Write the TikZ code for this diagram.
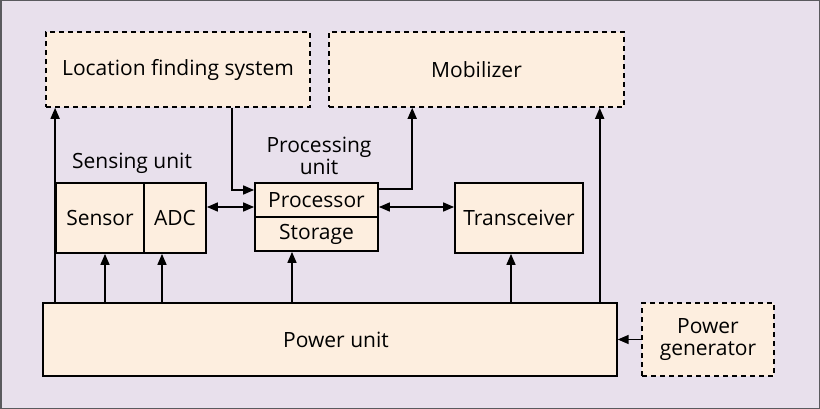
\documentclass[tikz,border=0pt]{standalone}
\usepackage{fontspec}
\setmainfont{Open Sans}
\usetikzlibrary{arrows.meta}
\definecolor{bg}{HTML}{E8E0EC}
\definecolor{boxfill}{HTML}{FDEEDF}
\definecolor{frame}{HTML}{5A5A5E}
\begin{document}
\begin{tikzpicture}[x=1pt,y=-1pt,
  solidbox/.style={draw=black,line width=1.8pt,fill=boxfill,rectangle,inner sep=0pt,font=\fontsize{21}{22}\selectfont},
  dashbox/.style={draw=black,line width=1.6pt,dash pattern=on 5pt off 4pt,fill=boxfill,rectangle,inner sep=0pt,font=\fontsize{21}{22}\selectfont},
  lbl/.style={font=\fontsize{21}{22}\selectfont,align=center,inner sep=0pt},
  conn/.style={line width=1.6pt,-{Triangle[length=11pt,width=9pt]}},
  dconn/.style={line width=1.6pt,{Triangle[length=11pt,width=9pt]}-{Triangle[length=11pt,width=9pt]}},
  line/.style={line width=1.6pt}]
\fill[bg] (0,0) rectangle (820,409);
\draw[frame,line width=1.5pt] (0.75,0.75) rectangle (819.25,408.25);
\useasboundingbox (0,0) rectangle (820,409);

\node[dashbox,minimum width=264pt,minimum height=75pt] (lfs) at (178,69.5) {Location finding system};
\node[dashbox,minimum width=295pt,minimum height=75pt] (mob) at (476.5,69.5) {Mobilizer};

\node[lbl] (sensl) at (132,163) {Sensing unit};
\node[lbl] (procl) at (319,156) {Processing\\unit};

\node[solidbox,minimum width=88pt,minimum height=70pt] (sensor) at (100,218) {Sensor};
\node[solidbox,minimum width=62pt,minimum height=70pt] (adc) at (175,218) {ADC};
\node[solidbox,minimum width=123pt,minimum height=34pt] (proc) at (316.5,200) {Processor};
\node[solidbox,minimum width=123pt,minimum height=34pt] (stor) at (316.5,234) {Storage};
\node[solidbox,minimum width=128pt,minimum height=70pt] (trans) at (519,218) {Transceiver};
\node[solidbox,line width=1.4pt,minimum width=574pt,minimum height=73pt] (power) at (330,339.5) {\hspace*{12pt}Power unit};
\node[dashbox,minimum width=132pt,minimum height=73pt,align=center] (pgen) at (708,339.5) {Power\\generator};

% power distribution
\draw[conn] (power.north -| sensor.west) -- (sensor.west |- lfs.south);
\draw[conn] ([xshift=5pt]sensor.south |- power.north) -- ([xshift=5pt]sensor.south);
\draw[conn] ([xshift=-13pt]adc.south |- power.north) -- ([xshift=-13pt]adc.south);
\draw[conn] ([xshift=-24.5pt]stor.south |- power.north) -- ([xshift=-24.5pt]stor.south);
\draw[conn] ([xshift=-8pt]trans.south |- power.north) -- ([xshift=-8pt]trans.south);
\draw[conn] ([xshift=-18pt]power.north east) -- ([xshift=-18pt]power.north east |- mob.south);
\draw[conn] (pgen.west) -- (pgen.west -| power.east);

% data paths
\draw[conn] ([xshift=54pt]lfs.south) |- ([yshift=10pt]proc.west);
\draw[conn] ([yshift=11pt]proc.east) -| ([xshift=84pt]mob.south west);
\draw[dconn] ([yshift=11pt]adc.east) -- ([yshift=11pt]adc.east -| proc.west);
\draw[dconn] ([yshift=11pt]trans.west -| proc.east) -- ([yshift=11pt]trans.west);
\end{tikzpicture}
\end{document}
